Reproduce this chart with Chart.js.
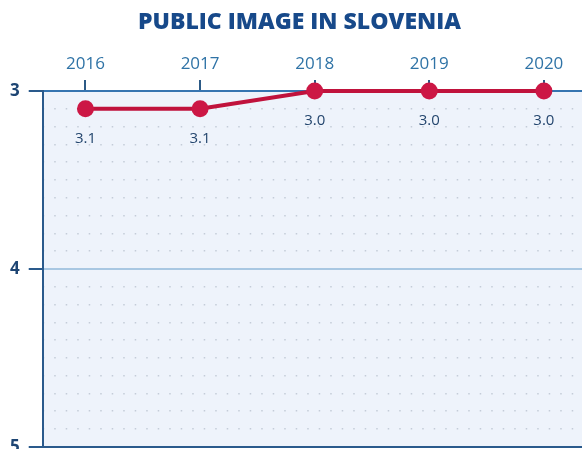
<!DOCTYPE html>
<html>
<head>
<meta charset="utf-8">
<script src="https://cdn.jsdelivr.net/npm/chart.js@4"></script>
<style>
  html, body { margin: 0; padding: 0; background: #fff; overflow: hidden; }
  #wrap { width: 582px; height: 449px; overflow: hidden; position: relative; }
  #box { width: 598px; height: 466px; position: absolute; left: 0; top: 0; }
</style>
</head>
<body>
<div id="wrap"><div id="box"><canvas id="myChart"></canvas></div></div>
<script>
// Data
const years = [2016, 2017, 2018, 2019, 2020];
const scores = [3.1, 3.1, 3.0, 3.0, 3.0];
const yTicks = [3, 4, 5];

const navy = '#1d4573';
const crimson = '#cc1745';

// plot background
const plotBg = {
    id: 'plotBg',
    beforeDraw(chart) {
        const a = chart.chartArea;
        const c = chart.ctx;
        c.save();
        c.fillStyle = '#eef3fb';
        c.fillRect(a.left, a.top, a.right - a.left, a.bottom - a.top);
        c.restore();
    }
};

// value labels under the points
const valueLabels = {
    id: 'valueLabels',
    afterDatasetsDraw(chart) {
        const c = chart.ctx;
        const meta = chart.getDatasetMeta(0);
        c.save();
        c.font = '15px "Open Sans"';
        c.fillStyle = '#24466e';
        c.textAlign = 'center';
        c.textBaseline = 'middle';
        meta.data.forEach((pt, i) => {
            c.fillText(scores[i].toFixed(1), pt.x, pt.y + 30);
        });
        c.restore();
    }
};

const ctx = document.getElementById('myChart').getContext('2d');

new Chart(ctx, {
    type: 'line',
    data: {
        datasets: [{
            data: years.map((y, i) => ({ x: y, y: scores[i] })),
            borderColor: '#c0123c',
            borderWidth: 4,
            pointRadius: 8.5,
            pointHoverRadius: 8.5,
            pointBackgroundColor: crimson,
            pointBorderColor: crimson,
            pointBorderWidth: 0,
            clip: false
        }]
    },
    options: {
        responsive: true,
        maintainAspectRatio: false,
        animation: false,
        layout: { padding: { left: 1, right: 0, top: 7, bottom: 0 } },
        plugins: {
            legend: { display: false },
            tooltip: { enabled: false },
            title: {
                display: true,
                text: 'PUBLIC IMAGE IN SLOVENIA',
                color: '#17498a',
                font: { family: 'Open Sans', size: 23, weight: '800' },
                padding: { top: 2, bottom: 11 }
            }
        },
        scales: {
            x: {
                type: 'linear',
                position: 'top',
                min: 2015.627,
                max: 2020.398,
                afterBuildTicks: axis => { axis.ticks = years.map(v => ({ value: v })); },
                ticks: {
                    color: '#2f73a6',
                    font: { family: 'Open Sans', size: 17 },
                    padding: 6,
                    callback: v => String(v)
                },
                grid: {
                    drawOnChartArea: false,
                    drawTicks: true,
                    tickLength: 11,
                    tickColor: '#2c5a86',
                    lineWidth: 2
                },
                border: { display: true, color: '#3574b0', width: 2 }
            },
            y: {
                type: 'linear',
                reverse: true,
                min: 3,
                max: 5,
                afterBuildTicks: axis => { axis.ticks = yTicks.map(v => ({ value: v })); },
                ticks: {
                    color: navy,
                    font: { family: 'Open Sans', size: 17, weight: 'bold' },
                    padding: 9,
                    callback: v => String(v)
                },
                grid: {
                    color: c => (c.tick && c.tick.value === 5) ? '#2a5a8c' : '#a8c7e2',
                    lineWidth: 2,
                    tickLength: 14,
                    tickColor: '#2a5a8c'
                },
                border: { display: true, color: '#2a5a8c', width: 2 }
            },
            y2: {
                type: 'linear',
                position: 'right',
                reverse: true,
                min: 3,
                max: 5,
                afterFit: axis => { axis.width = 0; },
                afterBuildTicks: axis => {
                    const t = [];
                    for (let i = 1; i < 20; i++) {
                        if (i !== 10) t.push({ value: 3 + i / 10 });
                    }
                    axis.ticks = t;
                },
                ticks: { display: false },
                grid: {
                    drawTicks: false,
                    color: '#c4ccd8',
                    lineWidth: 1.5
                },
                border: { display: false, dash: [1.5, 10] }
            }
        }
    },
    plugins: [plotBg, valueLabels]
});
</script>
</body>
</html>
